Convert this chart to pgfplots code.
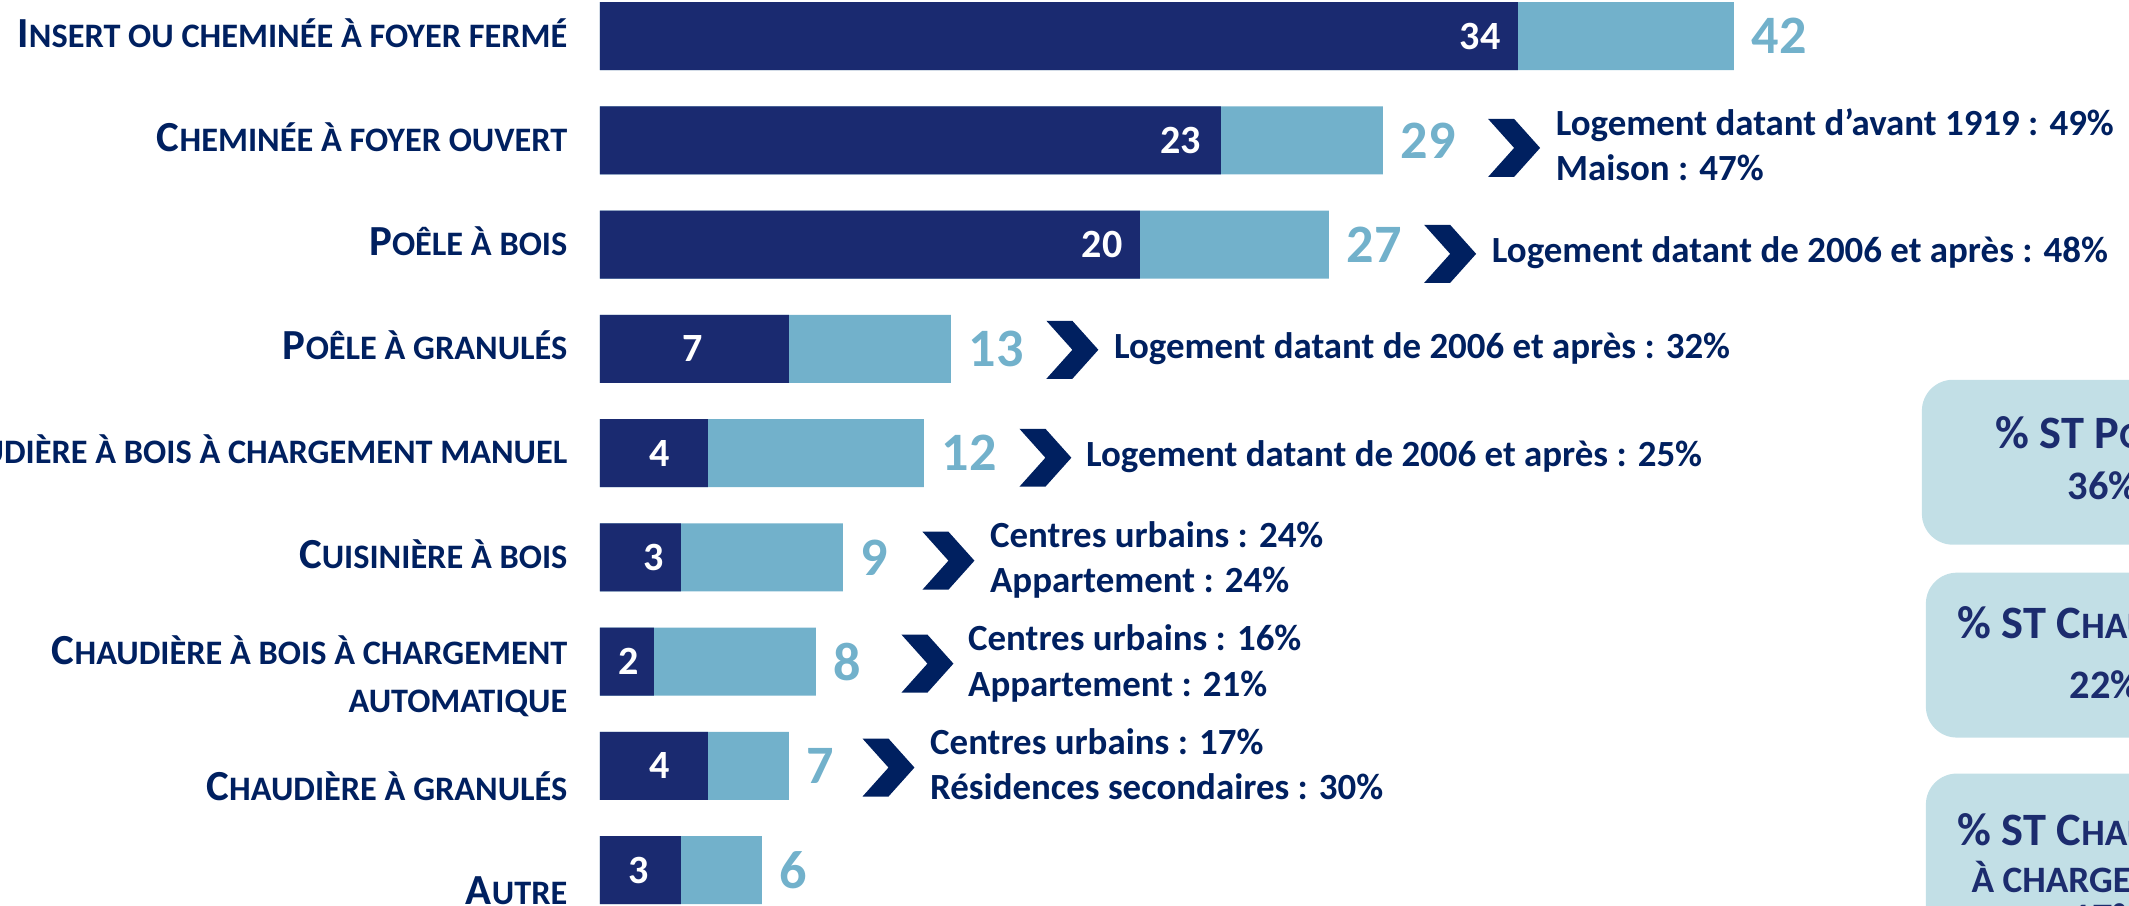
\documentclass[border=0pt]{standalone}
\usepackage{fontspec}
\setmainfont{Carlito}
\usepackage{pgfplots}
\usepackage{pgfplotstable}
\pgfplotsset{compat=1.18}

\definecolor{navy}{HTML}{1A2A70}
\definecolor{lblue}{HTML}{72B1CB}
\definecolor{txt}{HTML}{002060}
\definecolor{boxfill}{HTML}{C2DFE6}
\definecolor{boxtxt}{HTML}{1C2C6E}

% bold Carlito at a given size / line skip
\newcommand\fsz[2]{\fontsize{#1}{#2}\selectfont\bfseries}
% fake small caps: first part large, rest smaller capitals
\newcommand\smc[2]{{\fsz{12.2}{14}#1}{\fsz{9.76}{13.66}#2}}
\newcommand\bsmc[2]{{\fsz{13.2}{15}#1}{\fsz{10.6}{14}#2}}

% dark = first value, total = total value, darkpos = where the dark label sits
\pgfplotstableread{
idx dark total darkpos
0   34   42    32.6
1   23   29    21.5
2   20   27    18.6
3   7    13    3.44
4   4    12    2.22
5   3    9     2.0
6   2    8     1.07
7   4    7     2.22
8   3    6     1.44
}\data

\newcommand\chev[2]{\fill[txt] (#1,#2) -- ++(26,0) -- ++(26,29) -- ++(-26,29) -- ++(-26,0) -- ++(26,-29) -- cycle;}

\begin{document}
\begin{tikzpicture}
\useasboundingbox (0,0) rectangle (21.29,-9.06);
\clip (0,0) rectangle (21.29,-9.06);
\begin{axis}[at={(6cm,0.159cm)}, anchor=north west, scale only axis,
  width=13.5cm, height=9.381cm, xmin=0, xmax=50, ymin=-0.5, ymax=8.5, y dir=reverse,
  axis line style={draw=none}, major tick length=0pt, xtick=\empty, clip=false,
  /pgf/number format/assume math mode=true,
  ytick={0,...,8},
  yticklabels={
    {\smc{I}{NSERT OU CHEMINÉE À FOYER FERMÉ}},
    {\smc{C}{HEMINÉE À FOYER OUVERT}},
    {\smc{P}{OÊLE À BOIS}},
    {\smc{P}{OÊLE À GRANULÉS}},
    {\smc{C}{HAUDIÈRE À BOIS À CHARGEMENT MANUEL}},
    {\smc{C}{UISINIÈRE À BOIS}},
    {\raisebox{0.8mm}{\begin{tabular}[t]{@{}r@{}}\smc{C}{HAUDIÈRE À BOIS À CHARGEMENT}\\\smc{}{AUTOMATIQUE}\end{tabular}}},
    {\raisebox{-2.4mm}{\smc{C}{HAUDIÈRE À GRANULÉS}}},
    {\raisebox{-2.4mm}{\smc{A}{UTRE}}}},
  yticklabel style={anchor=base east, inner sep=0pt, xshift=-3.2mm, yshift=-1.08mm,
    font=\fsz{9.76}{13.66}, text=txt}]
\addplot[xbar, bar width=6.8mm, bar shift=0pt, fill=lblue, draw=none, point meta=x,
  nodes near coords, nodes near coords style={anchor=west, inner sep=0pt, xshift=1.7mm,
  font=\fsz{15.4}{18}, text=lblue}]
  table[x=total, y=idx] {\data};
\addplot[xbar, bar width=6.8mm, bar shift=0pt, fill=navy, draw=none]
  table[x=dark, y=idx] {\data};
\addplot[draw=none, mark=none, point meta=explicit, nodes near coords,
  nodes near coords style={anchor=center, inner sep=0pt, font=\fsz{11.4}{13}, text=white}]
  table[x=darkpos, y=idx, meta=dark] {\data};
\end{axis}

\begin{scope}[x=0.01cm, y=-0.01cm, every node/.style={anchor=base west, inner sep=0pt, text=txt, font=\fsz{10.5}{12.8}}]
\chev{1489}{119}
\node at (1556,136) {Logement datant d’avant 1919 : 49\%};
\node at (1556,181) {Maison : 47\%};
\chev{1425}{225}
\node at (1492,263) {Logement datant de 2006 et après : 48\%};
\chev{1047}{321}
\node at (1114,359) {Logement datant de 2006 et après : 32\%};
\chev{1020}{429}
\node at (1086,467) {Logement datant de 2006 et après : 25\%};
\chev{923}{532}
\node at (990,548) {Centres urbains : 24\%};
\node at (990,593) {Appartement : 24\%};
\chev{902}{635}
\node at (968,651) {Centres urbains : 16\%};
\node at (968,697) {Appartement : 21\%};
\chev{863}{739}
\node at (930,755) {Centres urbains : 17\%};
\node at (930,800) {Résidences secondaires : 30\%};

\fill[boxfill, rounded corners=3.1mm] (1923,380) rectangle (2300,545);
\fill[boxfill, rounded corners=3.1mm] (1927,573) rectangle (2300,738);
\fill[boxfill, rounded corners=3.1mm] (1927,774) rectangle (2300,1000);
\begin{scope}[every node/.append style={text=boxtxt, font=\fsz{11.5}{13}}]
\node at (1996,449) {\bsmc{\% ST P}{OÊLE}};
\node at (2068,500) {36\%};
\node at (1958,639) {\bsmc{\% ST C}{HAUDIÈRE}};
\node at (2070,699) {22\%};
\node at (1958,846) {\bsmc{\% ST C}{HAUDIÈRE}};
\node[font=\fsz{10.6}{13}] at (1972,893) {À CHARGEMENT};
\node at (2072,932) {17\%};
\end{scope}
\end{scope}
\end{tikzpicture}
\end{document}
